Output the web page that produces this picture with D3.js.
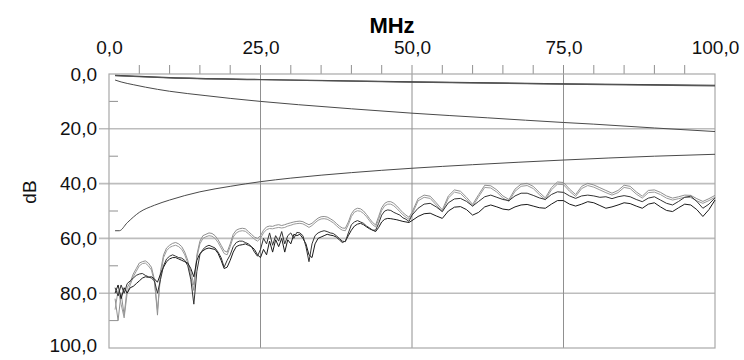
<!DOCTYPE html>
<html>
<head>
<meta charset="utf-8">
<script src="https://cdn.jsdelivr.net/npm/d3@7"></script>
<style>
  html, body { margin: 0; padding: 0; background: #fff; }
  svg { display: block; font-family: "Liberation Sans", Arial, sans-serif; }
</style>
</head>
<body>
<svg id="chart" width="744" height="360"></svg>
<script>
// ---------- data ----------
const xTicksMajor = [0, 25, 50, 75, 100];
const yTicksMajor = [0, 20, 40, 60, 80, 100];
const xLabel = "MHz";
const yLabel = "dB";

// frequency grid (MHz) shared by the measured curves
const freq = [
  1,1.5,2,2.5,3,3.5,4,4.5,5,5.5,
  6,6.5,7,7.5,8,8.5,9,9.5,10,10.5,
  11,11.5,12,12.5,13,13.5,14,14.5,15,15.5,
  16,16.5,17,17.5,18,18.5,19,19.5,20,20.5,
  21,21.5,22,22.5,23,23.5,24,24.5,25,25.5,
  26,26.5,27,27.5,28,28.5,29,29.5,30,30.5,
  31,31.5,32,32.5,33,33.5,34,34.5,35,35.5,
  36,36.5,37,37.5,38,38.5,39,39.5,40,40.5,
  41,41.5,42,42.5,43,43.5,44,44.5,45,45.5,
  46,46.5,47,47.5,48,48.5,49,49.5,50,
  51,52,53,54,55,56,57,58,59,60,
  61,62,63,64,65,66,67,68,69,70,
  71,72,73,74,75,76,77,78,79,80,
  81,82,83,84,85,86,87,88,89,90,
  91,92,93,94,95,96,97,98,99,100
];

// measured pair curves (dB)
const gray1 = [
  82,90,80,88,78,76,73,71,69,68.5,
  68.2,69,70.5,75,88,72,66,63.5,62.5,61.8,
  61.5,62,63,65,68,74,79,66,61,59,
  58.5,58,58.2,59,60.5,62.5,64.5,65,62,58.5,
  57,56.5,56.3,56.5,57.5,58.5,59.5,60,59,57,
  55.8,55.5,55.6,55.2,55,55.3,55,54.6,54.3,54,
  53.8,53.7,53.9,54.5,55,54.5,53.5,52.6,52.1,52,
  52.2,52.8,53.5,54.5,55.5,56.2,56.3,54,51,49.5,
  49,49.2,50,51.3,52.8,54.2,55.1,52,48.8,47.2,
  46.6,46.6,47.2,48.2,49.4,50.6,51.5,52.3,50.5,
  45.5,44.2,44.6,47,49.6,44.5,42.3,42.8,45,47.6,
  44,40.6,40.8,42.3,44.5,45.8,42,40.2,39.9,41,
  43.2,45.2,41.5,39.4,39.6,42,44,41,39.9,40.5,
  41.5,42.5,43.5,42.5,40.6,41,43,44.6,42.5,42.3,
  43.2,44.5,45.3,44.8,44.2,44.3,45.5,46.5,45.5,44.3
];
const gray2 = [
  86,79,84,89,80,77,74,72,70,69.2,
  69,70,71.5,76,86,74,67,64.5,63.3,62.8,
  62.5,63,64,66,69,72,77,67,62,60,
  59.4,59,59.2,60,61.5,63.5,65.5,66,63,59.5,
  58,57.4,57.2,57.4,58.3,59.3,60.3,61,60,58,
  56.8,56.4,56.5,56.2,56,56.2,56,55.5,55.2,54.8,
  54.6,54.5,54.7,55.3,56,55.3,54.3,53.4,52.9,52.8,
  53,53.6,54.3,55.3,56.3,57,57.2,55,52,50.4,
  49.9,50.1,50.9,52.1,53.6,55,55.8,53,49.8,48.1,
  47.5,47.5,48.1,49.1,50.3,51.4,52.3,53,51.3,
  46.3,45,45.4,47.8,50.3,45.3,43.1,43.6,45.8,48.3,
  44.8,41.4,41.6,43.1,45.3,46.5,42.8,41,40.7,41.8,
  44,45.9,42.3,40.2,40.4,42.8,44.7,41.8,40.7,41.3,
  42.3,43.3,44.2,43.3,41.4,41.8,43.8,45.3,43.3,43.1,
  44,45.3,46,45.5,45,45.1,46.3,47.2,46.2,45
];
const black1 = [
  78,81,77,80,76.5,75.5,74.5,73.5,73,72.8,
  73.5,74,74.5,75.5,80,75,70,67.5,66.5,66,
  66.5,67,67.2,68,70,75,84,72,66,64,
  63,62.5,63,63.5,65,67,70.5,68,66,63,
  61.5,61,61,61.5,62,63,65,66.5,64,60,
  62,58,62.5,59,61,57.5,62,59,58,60,
  57.8,58,59,63,68.5,62,59,58,57.5,57.2,
  57.5,58,58.2,59,60,61,61.2,58,55,54,
  53.5,54,54.5,55.5,56.2,57,57,54.5,51.5,50,
  49.6,49.8,50.5,51,51.5,52.5,53,53.8,51.5,
  49,47.5,47.2,48.5,50.2,47,45.6,45.4,46.5,48.2,
  46.5,44.8,44.2,45,45.8,46.2,44.5,43.5,43.5,44.3,
  45.2,45.8,44,43,43.2,44.5,45.4,44.5,44.2,44.5,
  45,44.8,45.5,44.8,44.4,44.8,45.8,46.6,45.3,44.8,
  46,47.2,47.8,46.5,45,44.6,46.5,49,47.5,45.2
];
const black2 = [
  80,77,82,78,80,78,77.5,76.5,75.5,74.5,
  74,74.2,74,74.8,76,73,70.5,68.5,67.5,67,
  67,67.5,68,68.5,69,71,74,68,65.5,64.5,
  63.8,63.5,63.8,64,65.5,68,71,70.5,68,65,
  63,62.5,62.3,62,62.5,63,64,66,67,64,
  66,61,65,60.5,63,60,65,60.5,62,58.5,
  59,58.5,60,62,66,67,62,60,59.5,59,
  58.5,58.8,59,59.5,60.5,61.5,61,59,57,55.5,
  54.8,54.5,55,55.8,56.5,57,57.5,56,54,53,
  52.7,52.8,53,53.2,53.5,53.8,54,54.2,53.5,
  52,51,50.8,51.8,52.7,50,48.6,48.4,49.5,51.5,
  50.5,48.5,47.8,48.5,49.3,49.6,48.5,47.8,47.6,48.2,
  48.8,49,47.5,46.2,46.2,47.5,48.2,47.5,46.6,47,
  48,49,48.5,47.8,47,47.3,48.2,49,47.5,47,
  48.5,49.8,50.2,48.8,47.5,47.8,49.5,52,49.5,46
];

// smooth curves: insertion loss (two pairs), insertion-loss limit, NEXT limit
const ilFreq = [1, 5, 10, 25, 50, 75, 100];
const il1 = [0.5, 0.9, 1.3, 2.0, 2.9, 3.6, 4.1];
const il2 = [0.6, 1.0, 1.4, 2.1, 3.0, 3.7, 4.3];
const ilLimitFreq = [1, 2, 4, 6, 10, 16, 20, 25, 31.25, 40, 50, 62.5, 75, 80, 90, 100];
const ilLimit = [2.2, 2.9, 3.9, 4.8, 6.3, 7.9, 8.9, 10.0, 11.2, 12.7, 14.3, 16.0, 17.7, 18.3, 19.7, 21.0];
const nextLimitFreq = [1, 1.7, 3, 5, 7.5, 10, 15, 20, 25, 30, 40, 50, 60, 75, 90, 100];
const nextLimit = [57.2, 57.2, 54.3, 50.5, 47.9, 46, 43, 41, 39.3, 38, 36, 34.4, 33.1, 31.4, 30, 29.3];

// ---------- chart ----------
const svg = d3.select("#chart");
const L = 109, R = 715, T = 74, B = 348;
const x = d3.scaleLinear().domain([0, 100]).range([L, R]);
const y = d3.scaleLinear().domain([0, 100]).range([T, B]);
const fmt = v => d3.format(".1f")(v).replace(".", ",");
const FONT = "'Liberation Sans', Arial, sans-serif";

// horizontal gridlines (light, extend out as major ticks)
svg.append("g").selectAll("line")
  .data(yTicksMajor.filter(v => v > 0 && v < 100))
  .join("line")
  .attr("x1", L - 10).attr("x2", R)
  .attr("y1", d => y(d)).attr("y2", d => y(d))
  .attr("stroke", "#bdbdbd").attr("stroke-width", 1.6);

// vertical gridlines (darker, extend above plot)
svg.append("g").selectAll("line")
  .data(xTicksMajor.filter(v => v > 0 && v < 100))
  .join("line")
  .attr("x1", d => x(d)).attr("x2", d => x(d))
  .attr("y1", T - 9).attr("y2", B)
  .attr("stroke", "#909090").attr("stroke-width", 1);

// top minor ticks (outside)
const xMinor = d3.range(5, 100, 5).filter(v => v % 25 !== 0);
svg.append("g").selectAll("line")
  .data(xMinor).join("line")
  .attr("x1", d => x(d)).attr("x2", d => x(d))
  .attr("y1", T - 9).attr("y2", T)
  .attr("stroke", "#909090").attr("stroke-width", 1);

// left minor ticks (inside)
const yMinor = [10, 30, 50, 70, 90];
svg.append("g").selectAll("line")
  .data(yMinor).join("line")
  .attr("x1", L).attr("x2", L + 9)
  .attr("y1", d => y(d)).attr("y2", d => y(d))
  .attr("stroke", "#909090").attr("stroke-width", 1);

// plot frame
svg.append("rect")
  .attr("x", L).attr("y", T).attr("width", R - L).attr("height", B - T)
  .attr("fill", "none").attr("stroke", "#a8a8a8").attr("stroke-width", 1.2);

// axis labels via d3 axes (tick lines drawn separately)
const axTop = d3.axisTop(x).tickValues(xTicksMajor).tickFormat(fmt).tickSize(0).tickPadding(20);
const gTop = svg.append("g").attr("transform", `translate(0,${T})`).call(axTop);
gTop.select(".domain").remove();
gTop.selectAll("text").attr("font-size", 19).attr("fill", "#111").attr("font-family", FONT);

const axLeft = d3.axisLeft(y).tickValues(yTicksMajor).tickFormat(fmt).tickSize(0).tickPadding(12);
const gLeft = svg.append("g").attr("transform", `translate(${L},0)`).call(axLeft);
gLeft.select(".domain").remove();
gLeft.selectAll("text").attr("font-size", 19).attr("fill", "#111").attr("font-family", FONT);
gLeft.selectAll(".tick").filter(d => d === 100).select("text").attr("dy", "0.2em");

svg.append("text")
  .attr("x", 392).attr("y", 33)
  .attr("text-anchor", "middle")
  .attr("font-size", 22).attr("font-weight", "bold").attr("fill", "#000")
  .attr("font-family", FONT)
  .text(xLabel);

svg.append("text")
  .attr("transform", `translate(${36},${192}) rotate(-90)`)
  .attr("text-anchor", "middle")
  .attr("font-size", 19).attr("fill", "#111")
  .attr("font-family", FONT)
  .text(yLabel);

// ---------- lines ----------
const plot = svg.append("g");
const lineRaw = d3.line().x(d => x(d[0])).y(d => y(d[1]));
const lineSmooth = d3.line().x(d => x(d[0])).y(d => y(d[1])).curve(d3.curveMonotoneX);
const zip = (fs, vs) => fs.map((f, i) => [f, vs[i]]);

const smooth = [
  { f: ilLimitFreq, v: ilLimit, c: "#4a4a4a", w: 1 },
  { f: nextLimitFreq, v: nextLimit, c: "#4a4a4a", w: 1 },
  { f: ilFreq, v: il1, c: "#333", w: 1.2 },
  { f: ilFreq, v: il2, c: "#555", w: 1.2 }
];
smooth.forEach(s => {
  plot.append("path").datum(zip(s.f, s.v))
    .attr("d", lineSmooth).attr("fill", "none")
    .attr("stroke", s.c).attr("stroke-width", s.w);
});

const measured = [
  { v: gray1, c: "#8f8f8f" },
  { v: gray2, c: "#9a9a9a" },
  { v: black2, c: "#1a1a1a" },
  { v: black1, c: "#333333" }
];
measured.forEach(s => {
  plot.append("path").datum(zip(freq, s.v))
    .attr("d", lineRaw).attr("fill", "none")
    .attr("stroke", s.c).attr("stroke-width", 1)
    .attr("stroke-linejoin", "round");
});
</script>
</body>
</html>
